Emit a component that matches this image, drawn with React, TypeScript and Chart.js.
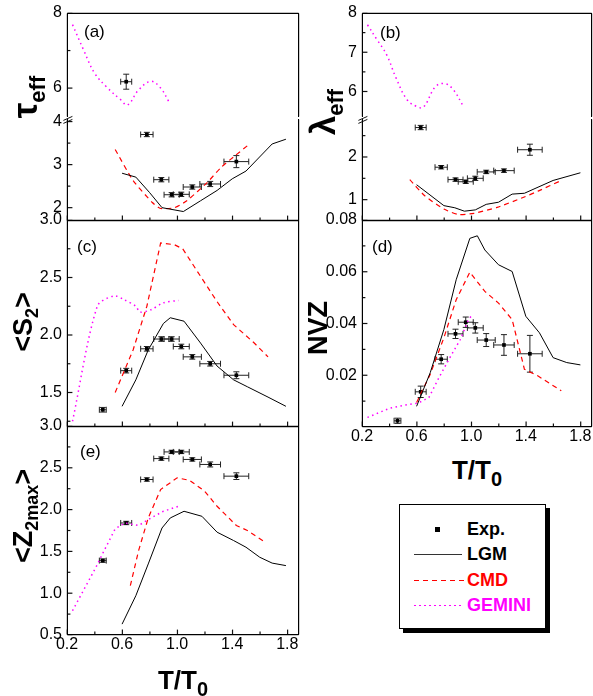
import React, { useEffect, useRef } from "react";
import { Chart, registerables } from "chart.js";
Chart.register(...registerables);

const FONT = '"Liberation Sans", Arial, Helvetica, sans-serif';

// ---------- common x data ----------
const xTickLabels = [0.2, 0.6, 1.0, 1.4, 1.8];
const xMinorTicks = [0.4, 0.8, 1.2, 1.6];
const expT = [0.46, 0.63, 0.78, 0.885, 0.96, 1.03, 1.11, 1.24, 1.43];
const expTErr = [0.025, 0.04, 0.045, 0.055, 0.055, 0.058, 0.066, 0.075, 0.09];

// ---------- (a) tau_eff ----------
const tauExp = [null, 6.17, 3.7, 2.65, 2.3, 2.31, 2.48, 2.55, 3.07];
const tauExpErr = [0, 0.2, 0.05, 0.05, 0.05, 0.05, 0.05, 0.06, 0.14];
const tauLgmT = [0.6, 0.7, 0.8, 0.89, 1.045, 1.17, 1.29, 1.4, 1.5, 1.69, 1.79];
const tauLgm = [2.8, 2.71, 2.35, 2.0, 1.91, 2.16, 2.4, 2.67, 2.85, 3.48, 3.59];
const tauCmdT = [0.55, 0.68, 0.82, 0.88, 0.98, 1.07, 1.22, 1.32, 1.41, 1.53];
const tauCmd = [3.35, 2.63, 2.12, 1.98, 2.0, 2.16, 2.59, 2.94, 3.18, 3.49];
const tauGemT = [0.24, 0.32, 0.4, 0.49, 0.59, 0.64, 0.72, 0.81, 0.88, 0.94];
const tauGem = [7.69, 7.02, 6.4, 6.02, 5.69, 5.55, 5.95, 6.18, 6.0, 5.64];

// ---------- (b) lambda_eff ----------
const lamExp = [null, 2.69, 1.76, 1.47, 1.42, 1.5, 1.65, 1.68, 2.17];
const lamExpErr = [0, 0.05, 0.04, 0.04, 0.04, 0.05, 0.04, 0.04, 0.13];
const lamLgmT = [0.6, 0.8, 0.88, 0.95, 1.03, 1.11, 1.2, 1.3, 1.39, 1.6, 1.8];
const lamLgm = [1.35, 0.86, 0.81, 0.73, 0.76, 0.89, 0.94, 1.13, 1.15, 1.45, 1.63];
const lamCmdT = [0.55, 0.66, 0.8, 0.91, 1.02, 1.19, 1.38, 1.49, 1.66];
const lamCmd = [1.47, 1.09, 0.78, 0.65, 0.68, 0.82, 1.05, 1.2, 1.45];
const lamGemT = [0.24, 0.31, 0.38, 0.45, 0.53, 0.6, 0.65, 0.74, 0.81, 0.87, 0.94];
const lamGem = [7.7, 7.32, 6.94, 6.34, 5.79, 5.62, 5.6, 6.13, 6.2, 6.04, 5.64];

// ---------- (c) <S2> ----------
const s2Exp = [1.35, 1.69, 1.88, 1.965, 1.965, 1.9, 1.81, 1.75, 1.65];
const s2ExpErr = [0.02, 0.02, 0.02, 0.02, 0.02, 0.02, 0.02, 0.02, 0.03];
const s2LgmT = [0.6, 0.7, 0.79, 0.9, 0.95, 1.05, 1.17, 1.29, 1.41, 1.51, 1.66, 1.79];
const s2Lgm = [1.38, 1.61, 1.87, 2.1, 2.15, 2.12, 1.93, 1.73, 1.61, 1.55, 1.46, 1.38];
const s2CmdT = [0.55, 0.68, 0.78, 0.88, 0.98, 1.04, 1.17, 1.29, 1.41, 1.56, 1.66];
const s2Cmd = [1.5, 1.87, 2.25, 2.8, 2.785, 2.75, 2.51, 2.29, 2.09, 1.93, 1.81];
const s2GemT = [0.24, 0.42, 0.54, 0.61, 0.7, 0.73, 0.81, 0.9, 1.01];
const s2Gem = [1.25, 2.25, 2.34, 2.31, 2.25, 2.2, 2.22, 2.28, 2.3];

// ---------- (d) NVZ ----------
const nvzExp = [0.0024, 0.0136, 0.0262, 0.036, 0.0405, 0.0383, 0.0336, 0.0317, 0.0283];
const nvzExpErr = [0.001, 0.0022, 0.0018, 0.0018, 0.002, 0.002, 0.0025, 0.004, 0.0071];
const nvzLgmT = [0.6, 0.7, 0.8, 0.89, 0.99, 1.045, 1.1, 1.2, 1.3, 1.4, 1.5, 1.6, 1.7, 1.8];
const nvzLgm = [0.008, 0.021, 0.0377, 0.0569, 0.0729, 0.0739, 0.0684, 0.0627, 0.0601, 0.0428, 0.0364, 0.0268, 0.0249, 0.024];
const nvzCmdT = [0.6, 0.7, 0.8, 0.89, 0.99, 1.1, 1.2, 1.3, 1.39, 1.49, 1.66];
const nvzCmd = [0.0095, 0.0204, 0.0345, 0.0492, 0.0598, 0.0524, 0.0479, 0.0415, 0.0223, 0.0197, 0.014];
const nvzGemT = [0.24, 0.4, 0.52, 0.61, 0.69, 0.77, 0.85, 0.92, 0.98, 1.01];
const nvzGem = [0.0037, 0.0072, 0.0085, 0.0092, 0.0114, 0.0197, 0.0274, 0.0338, 0.0415, 0.0435];

// ---------- (e) <Z2max> ----------
const zExp = [1.39, 1.84, 2.36, 2.61, 2.69, 2.69, 2.6, 2.54, 2.4];
const zExpErr = [0.02, 0.02, 0.02, 0.02, 0.02, 0.02, 0.02, 0.03, 0.04];
const zLgmT = [0.6, 0.7, 0.79, 0.89, 0.95, 1.05, 1.18, 1.29, 1.41, 1.5, 1.6, 1.69, 1.79];
const zLgm = [0.63, 0.97, 1.35, 1.78, 1.9, 1.98, 1.92, 1.73, 1.63, 1.55, 1.43, 1.36, 1.33];
const zCmdT = [0.66, 0.72, 0.79, 0.88, 1.0, 1.09, 1.2, 1.29, 1.43, 1.51, 1.64];
const zCmd = [1.09, 1.51, 1.9, 2.24, 2.38, 2.35, 2.22, 2.04, 1.81, 1.75, 1.61];
const zGemT = [0.24, 0.41, 0.47, 0.55, 0.62, 0.72, 0.81, 0.9, 1.01];
const zGem = [0.79, 1.31, 1.51, 1.77, 1.84, 1.81, 1.9, 1.98, 2.04];

// ---------- chart plumbing ----------
type Kind = "lgm" | "cmd" | "gem";
interface LineSpec { t: number[]; v: number[]; kind: Kind; tension?: number }
interface ExpSpec { t: number[]; v: (number | null)[]; xe: number[]; ye: number[] }
interface PanelSpec {
  l: number; r: number; t: number; b: number;
  yMin: number; yMax: number;
  yTicks: number[]; yMinor: number[]; dec: number;
  showX: boolean; frameTop: boolean; frameBottom: boolean; breakMark?: boolean;
  lines: LineSpec[]; exp?: ExpSpec;
}

const X_MIN = 0.2;
const X_MAX = 1.885;
const Y_W = 40;
const PAD_T = 16;
const PAD_R = 8;
const PAD_B = 16;
const X_H = 26;

function filterExp(v: (number | null)[], lo: number, hi: number) {
  return v.map((y) => (y !== null && y >= lo && y <= hi ? y : null));
}

const lineStyle: Record<Kind, any> = {
  lgm: { borderColor: "#000", borderWidth: 1, borderDash: [] },
  cmd: { borderColor: "#ff0000", borderWidth: 1.2, borderDash: [5, 4] },
  gem: { borderColor: "#ff00ff", borderWidth: 1.5, borderDash: [1.5, 3.5] },
};

function seg(ctx: CanvasRenderingContext2D, x1: number, y1: number, x2: number, y2: number) {
  ctx.beginPath();
  ctx.moveTo(x1, y1);
  ctx.lineTo(x2, y2);
  ctx.stroke();
}

function makeConfig(p: PanelSpec, idx: number): any {
  const datasets: any[] = p.lines.map((ln) => ({
    data: ln.t.map((t, i) => ({ x: t, y: ln.v[i] })),
    showLine: true,
    pointRadius: 0,
    tension: ln.tension ?? 0,
    ...lineStyle[ln.kind],
  }));
  if (p.exp) {
    const e = p.exp;
    datasets.push({
      data: e.t.map((t, i) => (e.v[i] === null ? null : { x: t, y: e.v[i] })).filter((d) => d !== null),
      showLine: false,
      pointStyle: "rect",
      pointRadius: 2.6,
      backgroundColor: "#000",
      borderColor: "#000",
      borderWidth: 0,
    });
  }
  const drawPlugin = {
    id: "panelDecor" + idx,
    beforeDatasetsDraw(chart: any) {
      const ctx: CanvasRenderingContext2D = chart.ctx;
      const a = chart.chartArea;
      const xs = chart.scales.x, ys = chart.scales.y;
      ctx.save();
      ctx.setLineDash([]);
      ctx.strokeStyle = "#111";
      ctx.lineWidth = 1.2;
      // frame (slightly heavier, anti-aliased strokes)
      const L = a.left + 0.4, R = a.right - 0.4, T = a.top + 0.4, B = a.bottom - 0.4;
      seg(ctx, L, T, L, B);
      seg(ctx, R, T, R, B);
      if (p.frameTop) seg(ctx, L, T, R, T);
      if (p.frameBottom) seg(ctx, L, B, R, B);
      // inward ticks
      p.yTicks.forEach((v) => {
        const y = Math.min(Math.max(ys.getPixelForValue(v), T), B);
        seg(ctx, L, y, L + 5, y);
      });
      p.yMinor.forEach((v) => {
        const y = ys.getPixelForValue(v);
        seg(ctx, L, y, L + 3, y);
      });
      if (p.frameBottom) {
        xTickLabels.forEach((v) => {
          const x = xs.getPixelForValue(v) + 0.3;
          seg(ctx, x, B, x, B - 5);
        });
        xMinorTicks.forEach((v) => {
          const x = xs.getPixelForValue(v) + 0.3;
          seg(ctx, x, B, x, B - 3);
        });
      }
      if (p.breakMark) {
        ctx.lineWidth = 1;
        seg(ctx, L - 4, T + 1, L + 5, T - 3);
        seg(ctx, L - 4, T + 4, L + 5, T);
      }
      // error bars
      if (p.exp) {
        ctx.strokeStyle = "#222";
        ctx.lineWidth = 1;
        const e = p.exp;
        e.t.forEach((t, i) => {
          const v = e.v[i];
          if (v === null) return;
          const px = xs.getPixelForValue(t), py = ys.getPixelForValue(v);
          const x1 = xs.getPixelForValue(t - e.xe[i]), x2 = xs.getPixelForValue(t + e.xe[i]);
          seg(ctx, x1, py, x2, py);
          seg(ctx, x1, py - 3, x1, py + 3);
          seg(ctx, x2, py - 3, x2, py + 3);
          const y1 = ys.getPixelForValue(v - e.ye[i]), y2 = ys.getPixelForValue(v + e.ye[i]);
          if (Math.abs(y1 - y2) > 1) {
            seg(ctx, px, y1, px, y2);
            seg(ctx, px - 3, y1, px + 3, y1);
            seg(ctx, px - 3, y2, px + 3, y2);
          }
        });
      }
      ctx.restore();
    },
  };
  return {
    type: "scatter",
    data: { datasets },
    plugins: [drawPlugin],
    options: {
      animation: false,
      responsive: false,
      maintainAspectRatio: false,
      devicePixelRatio: 1,
      layout: { padding: { left: 0, top: PAD_T, right: PAD_R, bottom: p.showX ? 0 : PAD_B } },
      plugins: { legend: { display: false }, tooltip: { enabled: false } },
      scales: {
        x: {
          type: "linear",
          min: X_MIN,
          max: X_MAX,
          display: p.showX,
          grid: { display: false, drawTicks: false },
          border: { display: false },
          afterBuildTicks: (s: any) => { s.ticks = xTickLabels.map((v) => ({ value: v })); },
          afterFit: (s: any) => { s.height = p.showX ? X_H : 0; },
          ticks: {
            padding: 0,
            maxRotation: 0,
            autoSkip: false,
            color: "#000",
            font: { family: FONT, size: 16 },
            callback: (v: any) => Number(v).toFixed(1),
          },
        },
        y: {
          type: "linear",
          min: p.yMin,
          max: p.yMax,
          grid: { display: false, drawTicks: false },
          border: { display: false },
          afterBuildTicks: (s: any) => { s.ticks = p.yTicks.map((v) => ({ value: v })); },
          afterFit: (s: any) => { s.width = Y_W; },
          ticks: {
            padding: 5,
            autoSkip: false,
            color: "#000",
            font: { family: FONT, size: 16 },
            callback: (v: any) => Number(v).toFixed(p.dec),
          },
        },
      },
    },
  };
}

function Panel({ spec, idx }: { spec: PanelSpec; idx: number }) {
  const ref = useRef<HTMLCanvasElement>(null);
  const W = spec.r - spec.l;
  const H = spec.b - spec.t;
  const cw = W + Y_W + PAD_R;
  const ch = H + PAD_T + (spec.showX ? X_H : PAD_B);
  useEffect(() => {
    const canvas = ref.current as HTMLCanvasElement;
    const chart = new Chart(canvas, makeConfig(spec, idx));
    return () => chart.destroy();
  }, []);
  return (
    <canvas
      ref={ref}
      width={cw}
      height={ch}
      style={{ position: "absolute", left: spec.l - Y_W, top: spec.t - PAD_T, width: cw, height: ch }}
    />
  );
}

// plain frame lines around each plotting area (layout only)
function Frame({ spec }: { spec: PanelSpec }) {
  const line = (x: number, y: number, w: number, h: number, k: string) => (
    <div key={k} style={{ position: "absolute", left: x, top: y, width: w, height: h, background: "#000" }} />
  );
  const { l, r, t, b } = spec;
  return (
    <>
      {line(l, t, 1, b - t, "l")}
      {line(r - 1, t, 1, b - t, "r")}
      {spec.frameTop ? line(l, t, r - l, 1, "t") : null}
      {spec.frameBottom ? line(l, b - 1, r - l, 1, "b") : null}
    </>
  );
}

const tauExpData: ExpSpec = { t: expT, v: tauExp, xe: expTErr, ye: tauExpErr };
const lamExpData: ExpSpec = { t: expT, v: lamExp, xe: expTErr, ye: lamExpErr };

const panels: PanelSpec[] = [
  {
    l: 67, r: 299, t: 13, b: 117, yMin: 5.23, yMax: 8, yTicks: [6, 8], yMinor: [7], dec: 0,
    showX: false, frameTop: true, frameBottom: false,
    lines: [{ t: tauGemT, v: tauGem, kind: "gem", tension: 0.4 }],
    exp: { ...tauExpData, v: filterExp(tauExp, 5.23, 8) },
  },
  {
    l: 67, r: 299, t: 119, b: 221, yMin: 1.69, yMax: 4.06, yTicks: [2, 3, 4], yMinor: [2.5, 3.5], dec: 0,
    showX: false, frameTop: false, frameBottom: true, breakMark: true,
    lines: [
      { t: tauLgmT, v: tauLgm, kind: "lgm" },
      { t: tauCmdT, v: tauCmd, kind: "cmd", tension: 0.2 },
    ],
    exp: { ...tauExpData, v: filterExp(tauExp, 1.69, 4.06) },
  },
  {
    l: 362, r: 592, t: 13, b: 117, yMin: 5.35, yMax: 8, yTicks: [6, 7, 8], yMinor: [6.5, 7.5], dec: 0,
    showX: false, frameTop: true, frameBottom: false,
    lines: [{ t: lamGemT, v: lamGem, kind: "gem", tension: 0.4 }],
  },
  {
    l: 362, r: 592, t: 119, b: 221, yMin: 0.5, yMax: 2.89, yTicks: [1, 2], yMinor: [1.5, 2.5], dec: 0,
    showX: false, frameTop: false, frameBottom: true, breakMark: true,
    lines: [
      { t: lamLgmT, v: lamLgm, kind: "lgm" },
      { t: lamCmdT, v: lamCmd, kind: "cmd", tension: 0.2 },
    ],
    exp: { ...lamExpData, v: filterExp(lamExp, 0.5, 2.89) },
  },
  {
    l: 67, r: 299, t: 220, b: 427, yMin: 1.2, yMax: 3.0, yTicks: [1.5, 2.0, 2.5, 3.0], yMinor: [1.25, 1.75, 2.25, 2.75], dec: 1,
    showX: false, frameTop: true, frameBottom: true,
    lines: [
      { t: s2LgmT, v: s2Lgm, kind: "lgm" },
      { t: s2CmdT, v: s2Cmd, kind: "cmd" },
      { t: s2GemT, v: s2Gem, kind: "gem", tension: 0.3 },
    ],
    exp: { t: expT, v: s2Exp, xe: expTErr, ye: s2ExpErr },
  },
  {
    l: 362, r: 592, t: 220, b: 427, yMin: 0, yMax: 0.08, yTicks: [0.02, 0.04, 0.06, 0.08], yMinor: [0.01, 0.03, 0.05, 0.07], dec: 2,
    showX: true, frameTop: true, frameBottom: true,
    lines: [
      { t: nvzLgmT, v: nvzLgm, kind: "lgm" },
      { t: nvzCmdT, v: nvzCmd, kind: "cmd" },
      { t: nvzGemT, v: nvzGem, kind: "gem" },
    ],
    exp: { t: expT, v: nvzExp, xe: expTErr, ye: nvzExpErr },
  },
  {
    l: 67, r: 299, t: 426, b: 635, yMin: 0.5, yMax: 3.0, yTicks: [0.5, 1.0, 1.5, 2.0, 2.5, 3.0], yMinor: [0.75, 1.25, 1.75, 2.25, 2.75], dec: 1,
    showX: true, frameTop: true, frameBottom: true,
    lines: [
      { t: zLgmT, v: zLgm, kind: "lgm" },
      { t: zCmdT, v: zCmd, kind: "cmd" },
      { t: zGemT, v: zGem, kind: "gem" },
    ],
    exp: { t: expT, v: zExp, xe: expTErr, ye: zExpErr },
  },
];

function RotTitle({ x, y, size, children }: { x: number; y: number; size: number; children: any }) {
  return (
    <div
      style={{
        position: "absolute", left: x, top: y,
        transform: "translate(-50%, -50%) rotate(-90deg)",
        whiteSpace: "nowrap", fontWeight: "bold", fontSize: size, lineHeight: 1, fontFamily: FONT, color: "#000",
      }}
    >
      {children}
    </div>
  );
}

const Sub = ({ size, children }: { size: number; children: any }) => (
  <span style={{ fontSize: size, position: "relative", top: "0.35em" }}>{children}</span>
);

function Label({ x, y, text }: { x: number; y: number; text: string }) {
  return (
    <div style={{ position: "absolute", left: x, top: y, fontSize: 17, lineHeight: 1, fontFamily: FONT, color: "#000" }}>
      {text}
    </div>
  );
}

function XTitle({ cx, cy }: { cx: number; cy: number }) {
  return (
    <div
      style={{
        position: "absolute", left: cx, top: cy, transform: "translate(-50%, -50%)",
        whiteSpace: "nowrap", fontWeight: "bold", fontSize: 26, lineHeight: 1, fontFamily: FONT, color: "#000",
      }}
    >
      T/T<Sub size={20}>0</Sub>
    </div>
  );
}

function Legend() {
  const dashes = (color: string, on: number, gap: number, n: number) => (
    <div style={{ position: "absolute", left: 14, top: 0, width: 48, height: 1, display: "flex" }}>
      {Array.from({ length: n }).map((_, i) => (
        <div key={i} style={{ width: on, height: 1, background: color, marginRight: gap, flex: "none" }} />
      ))}
    </div>
  );
  const item = (y: number, text: string, color: string, line: any) => (
    <>
      <div style={{ position: "absolute", left: 0, top: y, width: 70, height: 1 }}>{line}</div>
      <div style={{ position: "absolute", left: 67, top: y - 10, fontSize: 18, fontWeight: "bold", lineHeight: "20px", color, fontFamily: FONT }}>
        {text}
      </div>
    </>
  );
  return (
    <div
      style={{
        position: "absolute", left: 399, top: 504, width: 145, height: 123,
        border: "1px solid #000", boxShadow: "4px 4px 0 #000", background: "#fff",
      }}
    >
      <div style={{ position: "absolute", left: 35, top: 22, width: 5, height: 5, background: "#000" }} />
      <div style={{ position: "absolute", left: 67, top: 14, fontSize: 18, fontWeight: "bold", lineHeight: "20px", fontFamily: FONT }}>Exp.</div>
      {item(49, "LGM", "#000", <div style={{ position: "absolute", left: 14, top: 0, width: 48, height: 1, background: "#333" }} />)}
      {item(75, "CMD", "#ff0000", dashes("#ff0000", 5, 4, 6))}
      {item(100, "GEMINI", "#ff00ff", dashes("#ff00ff", 2, 3, 10))}
    </div>
  );
}

export default function App() {
  useEffect(() => {
    document.body.style.margin = "0";
    document.body.style.overflow = "hidden";
  }, []);
  return (
    <div style={{ position: "absolute", left: 0, top: 0, width: 593, height: 696, overflow: "hidden", background: "#fff", fontFamily: FONT }}>
      {panels.map((p, i) => <Panel key={"c" + i} spec={p} idx={i} />)}
      {panels.map((p, i) => <Frame key={"f" + i} spec={p} />)}
      <Label x={84} y={23} text="(a)" />
      <Label x={380} y={24} text="(b)" />
      <Label x={77} y={238} text="(c)" />
      <Label x={372} y={238} text="(d)" />
      <Label x={80} y={443} text="(e)" />
      <RotTitle x={24} y={97} size={35}>τ<Sub size={22}>eff</Sub></RotTitle>
      <RotTitle x={322} y={112} size={35}>λ<Sub size={22}>eff</Sub></RotTitle>
      <RotTitle x={23} y={322} size={27}>&lt;S<Sub size={18}>2</Sub>&gt;</RotTitle>
      <RotTitle x={23} y={516} size={27}>&lt;Z<Sub size={18}>2max</Sub>&gt;</RotTitle>
      <RotTitle x={318} y={328} size={27}>NVZ</RotTitle>
      <XTitle cx={183} cy={680} />
      <XTitle cx={477} cy={470} />
      <Legend />
    </div>
  );
}
